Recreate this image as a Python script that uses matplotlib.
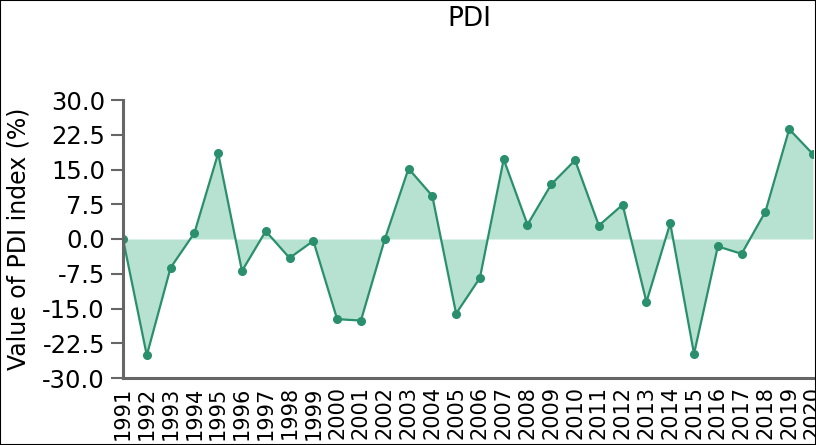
import matplotlib
matplotlib.use("Agg")
import matplotlib.pyplot as plt
from matplotlib.patches import Rectangle

years = list(range(1991, 2021))
pdi = [0.0, -25.1, -6.2, 1.3, 18.5, -6.9, 1.7, -4.1, -0.4, -17.3,
       -17.6, -0.1, 15.2, 9.3, -16.1, -8.4, 17.2, 3.1, 11.8, 17.0,
       2.9, 7.4, -13.6, 3.4, -24.8, -1.6, -3.2, 5.9, 23.7, 18.3]
yticks = [-30.0, -22.5, -15.0, -7.5, 0.0, 7.5, 15.0, 22.5, 30.0]

W, H = 816, 445
fig = plt.figure(figsize=(W / 100, H / 100), dpi=100)
ax = fig.add_axes([123 / W, 1 - 378 / H, (813 - 123) / W, (378 - 100) / H])

line_c = "#2a8f6c"
fill_c = "#b7e2d2"
ax.fill_between(years, pdi, 0, color=fill_c, linewidth=0)
ax.plot(years, pdi, color=line_c, linewidth=1.6, marker="o", markersize=5.5)

ax.set_xlim(1991, 2020)
ax.set_ylim(-30, 30)
ax.set_yticks(yticks)
ax.set_yticklabels([f"{v:.1f}" for v in yticks], fontsize=17.5)
ax.set_xticks(years)
ax.set_xticklabels([str(y) for y in years], rotation=90, fontsize=15)
ax.tick_params(axis="y", length=9, width=1.5, color="#666666", pad=4)
ax.tick_params(axis="x", length=0, pad=6)
for s in ["top", "right"]:
    ax.spines[s].set_visible(False)
for s in ["left", "bottom"]:
    ax.spines[s].set_color("#666666")
    ax.spines[s].set_linewidth(2.2)
ax.set_ylabel("Value of PDI index (%)", fontsize=17)
ax.yaxis.set_label_coords((31 - 123) / (813 - 123), 0.5)

fig.text(469 / W, 1 - 19 / H, "PDI", ha="center", va="center", fontsize=19)
fig.patches.append(Rectangle((0, 0), 1, 1, transform=fig.transFigure,
                             fill=False, edgecolor="black", linewidth=1.5))

fig.savefig("out.png", dpi=100)
